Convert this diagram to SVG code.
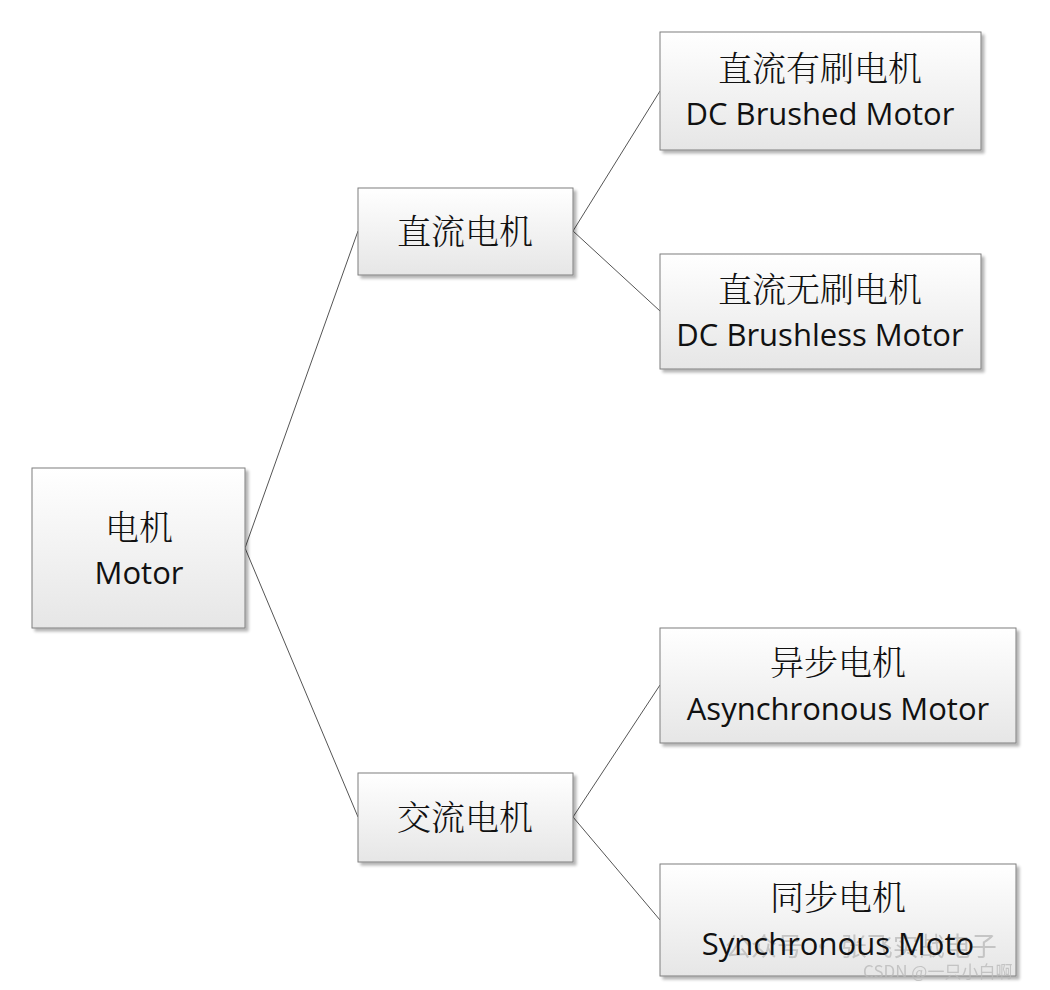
<svg xmlns="http://www.w3.org/2000/svg" width="1050" height="990" viewBox="0 0 1050 990">
<defs>
<linearGradient id="g" x1="0" y1="0" x2="0" y2="1"><stop offset="0" stop-color="#ffffff"/><stop offset="1" stop-color="#e6e6e6"/></linearGradient>
<filter id="sh" x="-5%" y="-5%" width="115%" height="115%"><feGaussianBlur in="SourceAlpha" stdDeviation="1.5"/><feOffset dx="3" dy="3"/><feComponentTransfer><feFuncA type="linear" slope="0.3"/></feComponentTransfer><feMerge><feMergeNode/><feMergeNode in="SourceGraphic"/></feMerge></filter>
</defs>
<style>
.b{fill:url(#g);stroke:#7f7f7f;stroke-width:1;filter:url(#sh)}
.zh{font-family:"Noto Serif CJK SC","Noto Sans CJK SC",serif;font-size:34px;fill:#111;text-anchor:middle;font-weight:300}
.en{font-family:"Open Sans","Liberation Sans",sans-serif;font-size:31px;fill:#111;text-anchor:middle}
.c line{stroke:#555;stroke-width:1}
.wm{font-family:"Noto Sans CJK SC",sans-serif;fill:#bbb;opacity:0.8}
</style>
<rect width="1050" height="990" fill="#fff"/>
<g class="c" id="connectors">
<line x1="245" y1="548" x2="358" y2="231"/>
<line x1="245" y1="548" x2="358" y2="817"/>
<line x1="573" y1="231" x2="660" y2="91"/>
<line x1="573" y1="231" x2="660" y2="311"/>
<line x1="573" y1="817" x2="660" y2="685"/>
<line x1="573" y1="817" x2="660" y2="920"/>
</g>
<g id="motor"><rect class="b" x="32" y="468" width="213" height="160"/><text class="zh" x="139" y="540">电机</text><text class="en" x="139" y="584">Motor</text></g>
<g id="dc"><rect class="b" x="358" y="188" width="215" height="87"/><text class="zh" x="465" y="244">直流电机</text></g>
<g id="ac"><rect class="b" x="358" y="773" width="215" height="89"/><text class="zh" x="465" y="830">交流电机</text></g>
<g id="brushed"><rect class="b" x="660" y="32" width="321" height="118"/><text class="zh" x="820" y="81">直流有刷电机</text><text class="en" x="820" y="125">DC Brushed Motor</text></g>
<g id="brushless"><rect class="b" x="660" y="254" width="321" height="115"/><text class="zh" x="820" y="302">直流无刷电机</text><text class="en" x="820" y="346">DC Brushless Motor</text></g>
<g id="async"><rect class="b" x="660" y="628" width="356" height="115"/><text class="zh" x="838" y="675">异步电机</text><text class="en" x="838" y="720">Asynchronous Motor</text></g>
<g id="sync"><rect class="b" x="660" y="864" width="356" height="112"/><text class="zh" x="838" y="910">同步电机</text><text class="wm" x="725" y="956" font-size="26">公众号 · 张飞实战电子</text><text class="en" x="838" y="955">Synchronous Moto</text></g>
<text class="wm" x="863" y="978" font-size="17" fill="#999">CSDN @一只小白啊</text>
</svg>
